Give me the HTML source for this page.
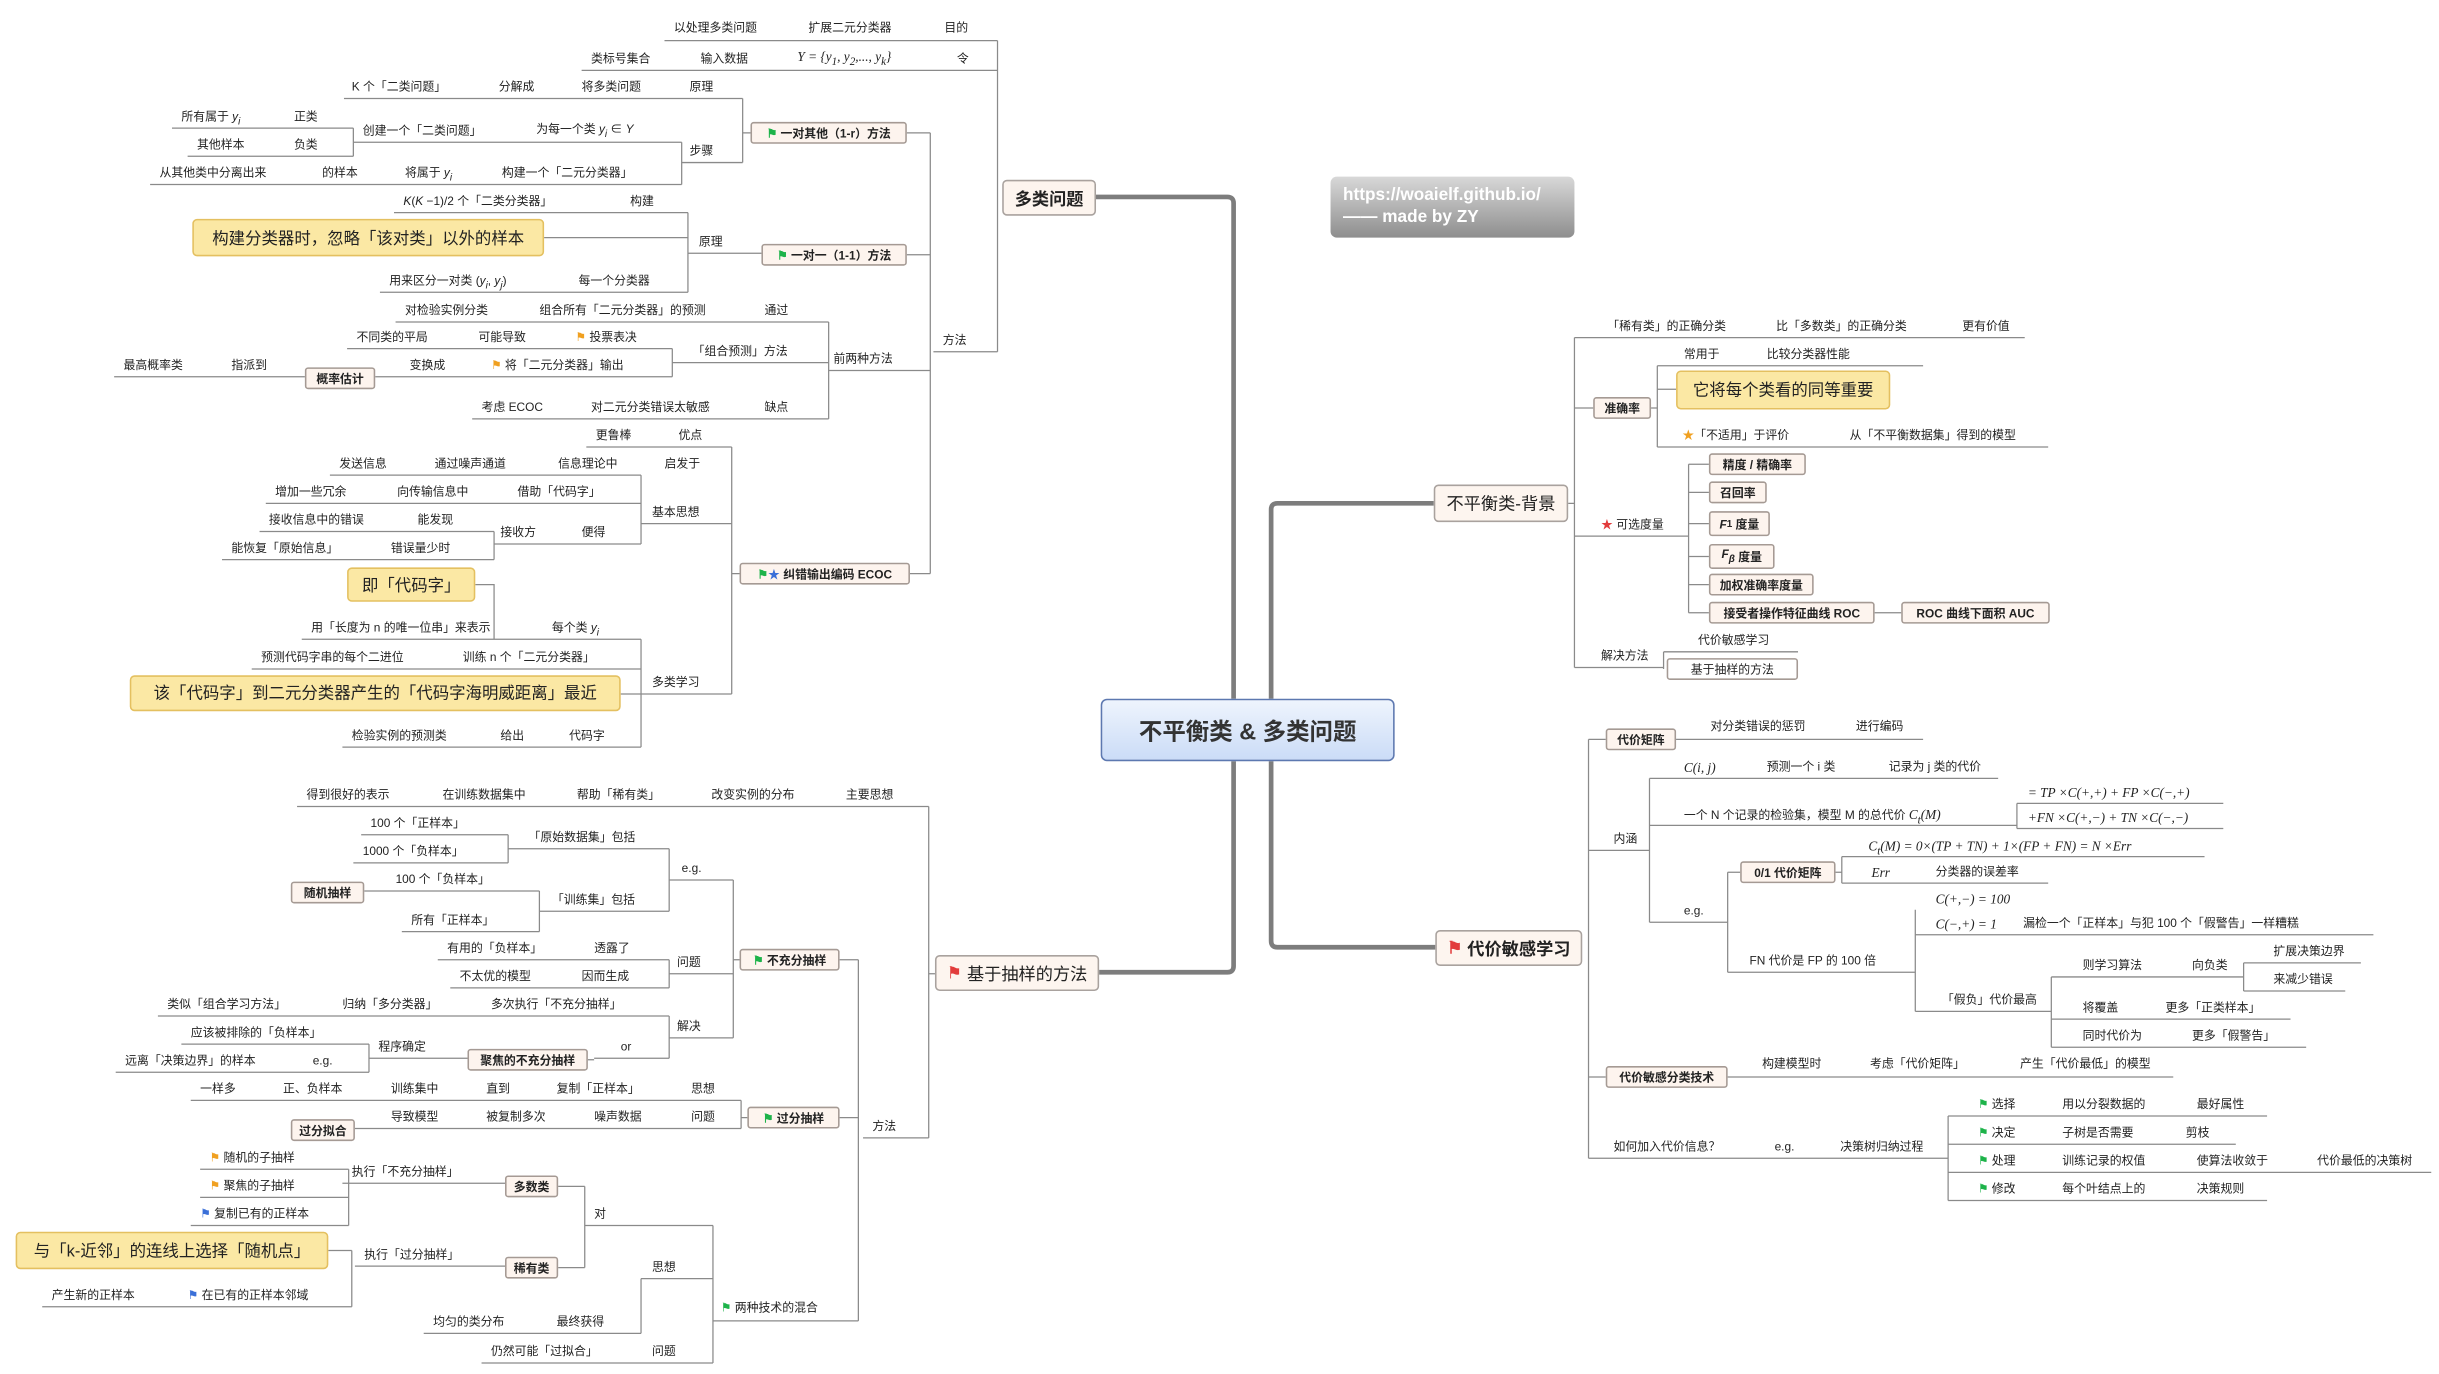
<!DOCTYPE html>
<html><head><meta charset="utf-8"><style>
html,body{margin:0;padding:0;background:#fff;}
#w{position:relative;width:1560px;height:879px;transform:scale(1.5635,1.5631);transform-origin:0 0;overflow:hidden;font-family:"Liberation Sans","Noto Sans CJK SC",sans-serif;color:#222;}
.t{position:absolute;font-size:7.6px;line-height:10px;white-space:nowrap;}
.m{font-family:"Liberation Serif","Noto Serif CJK SC",serif;font-style:italic;font-size:8.5px;}
.b{position:absolute;background:#fdf4ee;border:1px solid #a59a94;border-radius:2px;font-size:7.6px;font-weight:bold;display:flex;align-items:center;justify-content:center;white-space:nowrap;box-sizing:border-box;}
.L{position:absolute;background:#fdf5ef;border:1px solid #a9a29e;border-radius:3px;font-size:11px;display:flex;align-items:center;justify-content:center;white-space:nowrap;box-sizing:border-box;}
.y{position:absolute;background:#fbe8a4;border:1px solid #e4c060;border-radius:3px;font-size:10.5px;display:flex;align-items:center;justify-content:center;white-space:nowrap;box-sizing:border-box;}
.g{color:#1db34a;}.r{color:#e23c3c;}.o{color:#f0a020;}.bl{color:#3a6fd8;}
svg{position:absolute;left:0;top:0;}
</style></head><body><div id="w">
<svg width="1560" height="879">
<g fill="none" stroke="#8a8a8a" stroke-width="0.8">
<path d="M425 26H638M372 45H638M638 26V225M597 225H638M595 85V367M580 85H595M220 63H475M436 104H475M475 63V104M475 85H480M226 91H436M96 118H436M436 91V118M110 82H226M120 100H226M226 82V100"/>
<path d="M580 163H595M440 162H487M440 136V187M252 136H440M243 187H440M348 152H440M530 237H595M530 206V268M253 206H530M430 232H530M302 268H530M430 223V241M222 223H430M240 241H430M73 241H195"/>
<path d="M582 367H595M468 286V444M468 367H473M375 286H468M410 335H468M410 444H468M410 304V348M211 304H410M170 322H410M316 348H410M316 340V358M166 340H316M142 358H316M410 409V478M193 409H410M161 428H410M397 444H410M219 478H410M304 374H316V409"/>
<path d="M594 516V728M536 516H594M552 728H594M594 623H598M549 614V845M537 614H549M537 715H549M456 845H549M190 516H536M469 563V664M469 614H473M428 563H469M428 623H469M428 664H469M428 543V583M325 543H428M345 583H428M325 534V552M231 534H325M226 552H325M345 570V596M233 570H345M257 596H345M428 614V632M280 614H428M288 632H428M428 650V677M101 650H428M380 677H428M376 678H380M236 677H299M236 668V686M116 668H236M74 686H236"/>
<path d="M474 704V722M474 715H478M122 704H474M227 722H474M456 784V872M374 784H456M410 818H456M308 872H456M410 818V853M271 853H410M374 759V811M357 759H374M357 811H374M219 757H323M223 748V784M128 748H223M128 766H223M122 784H223M227 810H323M225 800V836M210 800H225M27 836H225"/>
<path d="M1007 216V427M1003 322H1007M1007 216H1295M1007 261H1019M1060 234V286M1056 261H1060M1060 234H1230M1060 249H1072M1060 286H1310M1007 343H1080M1080 297V392M1080 297H1093M1080 315H1093M1080 335H1093M1080 356H1093M1080 374H1093M1080 392H1093M1199 392H1216M1007 427H1064M1064 417V428M1064 417H1150"/>
<path d="M1016 473V741M1016 473H1027M1072 473H1230M1016 544H1055M1016 689H1027M1105 689H1390M1016 741H1246M1055 498V590M1055 498H1278M1055 528H1290M1055 590H1105M1290 514V530M1290 514H1422M1290 530H1422M1105 558V622M1105 558H1113M1105 622H1225M1178 548V565M1174 558H1178M1178 548H1410M1178 565H1310M1225 582V647M1225 598H1518M1225 647H1312M1312 625V670M1312 625H1435M1312 652H1465M1312 670H1475M1435 616V634M1435 616H1510M1435 634H1500M1246 714V768M1246 714H1450M1246 732H1430M1246 750H1555M1246 768H1450"/>
</g>
<g fill="none" stroke="#7d7d7d" stroke-width="3">
<path d="M701 126H785Q789 126 789 130V447M813 447V326Q813 322 817 322H917M789 487V618Q789 622 785 622H703M813 487V602Q813 606 817 606H918"/>
</g>
</svg>

<!-- center -->
<div style="position:absolute;left:704px;top:447px;width:188px;height:40px;border:1px solid #5d78b0;border-radius:4px;background:linear-gradient(#eef4fd,#cbdcf7);box-sizing:border-box;display:flex;align-items:center;justify-content:center;font-size:15px;font-weight:bold;color:#333;">不平衡类 &amp; 多类问题</div>
<div style="position:absolute;left:851px;top:113px;width:156px;height:39px;border-radius:4px;background:linear-gradient(#d8d8d8,#8e8e8e);color:#fff;font-weight:bold;font-size:11px;line-height:14px;padding:5px 8px;box-sizing:border-box;">https://woaielf.github.io/<br>—— made by ZY</div>

<div class="L" style="left:641px;top:115px;width:60px;height:23px;font-weight:bold;">多类问题</div>
<div class="L" style="left:917px;top:310px;width:86px;height:24px;">不平衡类-背景</div>
<div class="L" style="left:598px;top:611px;width:105px;height:23px;"><span class="r">⚑</span>&nbsp;基于抽样的方法</div>
<div class="L" style="left:918px;top:595px;width:94px;height:23px;font-weight:bold;"><span class="r">⚑</span>&nbsp;代价敏感学习</div>

<!-- top-left -->
<div class="t" style="left:431px;top:13px">以处理多类问题</div><div class="t" style="left:517px;top:13px">扩展二元分类器</div><div class="t" style="left:604px;top:13px">目的</div>
<div class="t" style="left:378px;top:33px">类标号集合</div><div class="t" style="left:448px;top:33px">输入数据</div><div class="t m" style="left:510px;top:31px">Y = {y<sub>1</sub>, y<sub>2</sub>,..., y<sub>k</sub>}</div><div class="t" style="left:612px;top:33px">令</div>
<div class="t" style="left:603px;top:213px">方法</div>
<div class="b" style="left:480px;top:78px;width:100px;height:14px;"><span class="g">⚑</span>&nbsp;一对其他（1-r）方法</div>
<div class="t" style="left:225px;top:51px">K 个「二类问题」</div><div class="t" style="left:319px;top:51px">分解成</div><div class="t" style="left:372px;top:51px">将多类问题</div><div class="t" style="left:441px;top:51px">原理</div>
<div class="t" style="left:441px;top:92px">步骤</div>
<div class="t" style="left:232px;top:79px">创建一个「二类问题」</div><div class="t" style="left:343px;top:78px">为每一个类 <i>y<sub>i</sub></i> ∈ <i>Y</i></div>
<div class="t" style="left:116px;top:70px">所有属于 <i>y<sub>i</sub></i></div><div class="t" style="left:188px;top:70px">正类</div>
<div class="t" style="left:126px;top:88px">其他样本</div><div class="t" style="left:188px;top:88px">负类</div>
<div class="t" style="left:102px;top:106px">从其他类中分离出来</div><div class="t" style="left:206px;top:106px">的样本</div><div class="t" style="left:259px;top:106px">将属于 <i>y<sub>i</sub></i></div><div class="t" style="left:321px;top:106px">构建一个「二元分类器」</div>

<div class="b" style="left:487px;top:156px;width:93px;height:14px;"><span class="g">⚑</span>&nbsp;一对一（1-1）方法</div>
<div class="t" style="left:258px;top:124px"><i>K</i>(<i>K</i> −1)/2 个「二类分类器」</div><div class="t" style="left:403px;top:124px">构建</div>
<div class="t" style="left:447px;top:150px">原理</div>
<div class="y" style="left:123px;top:140px;width:225px;height:24px;">构建分类器时，忽略「该对类」以外的样本</div>
<div class="t" style="left:249px;top:175px">用来区分一对类 (<i>y<sub>i</sub></i>, <i>y<sub>j</sub></i>)</div><div class="t" style="left:370px;top:175px">每一个分类器</div>

<div class="t" style="left:533px;top:225px">前两种方法</div>
<div class="t" style="left:259px;top:194px">对检验实例分类</div><div class="t" style="left:345px;top:194px">组合所有「二元分类器」的预测</div><div class="t" style="left:489px;top:194px">通过</div>
<div class="t" style="left:443px;top:220px">「组合预测」方法</div>
<div class="t" style="left:228px;top:211px">不同类的平局</div><div class="t" style="left:306px;top:211px">可能导致</div><div class="t" style="left:368px;top:211px"><span class="o">⚑</span> 投票表决</div>
<div class="b" style="left:195px;top:235px;width:45px;height:14px;">概率估计</div>
<div class="t" style="left:79px;top:229px">最高概率类</div><div class="t" style="left:148px;top:229px">指派到</div><div class="t" style="left:262px;top:229px">变换成</div><div class="t" style="left:314px;top:229px"><span class="o">⚑</span> 将「二元分类器」输出</div>
<div class="t" style="left:308px;top:256px">考虑 ECOC</div><div class="t" style="left:378px;top:256px">对二元分类错误太敏感</div><div class="t" style="left:489px;top:256px">缺点</div>

<div class="b" style="left:473px;top:360px;width:109px;height:14px;"><span class="g">⚑</span><span class="bl">★</span>&nbsp;纠错输出编码 ECOC</div>
<div class="t" style="left:381px;top:274px">更鲁棒</div><div class="t" style="left:434px;top:274px">优点</div>
<div class="t" style="left:217px;top:292px">发送信息</div><div class="t" style="left:278px;top:292px">通过噪声通道</div><div class="t" style="left:357px;top:292px">信息理论中</div><div class="t" style="left:425px;top:292px">启发于</div>
<div class="t" style="left:176px;top:310px">增加一些冗余</div><div class="t" style="left:254px;top:310px">向传输信息中</div><div class="t" style="left:331px;top:310px">借助「代码字」</div>
<div class="t" style="left:417px;top:323px">基本思想</div>
<div class="t" style="left:172px;top:328px">接收信息中的错误</div><div class="t" style="left:267px;top:328px">能发现</div>
<div class="t" style="left:320px;top:336px">接收方</div><div class="t" style="left:372px;top:336px">便得</div>
<div class="t" style="left:148px;top:346px">能恢复「原始信息」</div><div class="t" style="left:250px;top:346px">错误量少时</div>
<div class="y" style="left:222px;top:363px;width:82px;height:22px;">即「代码字」</div>
<div class="t" style="left:199px;top:397px">用「长度为 n 的唯一位串」来表示</div><div class="t" style="left:353px;top:397px">每个类 <i>y<sub>i</sub></i></div>
<div class="t" style="left:167px;top:416px">预测代码字串的每个二进位</div><div class="t" style="left:296px;top:416px">训练 n 个「二元分类器」</div>
<div class="y" style="left:83px;top:432px;width:314px;height:23px;">该「代码字」到二元分类器产生的「代码字海明威距离」最近</div>
<div class="t" style="left:417px;top:432px">多类学习</div>
<div class="t" style="left:225px;top:466px">检验实例的预测类</div><div class="t" style="left:320px;top:466px">给出</div><div class="t" style="left:364px;top:466px">代码字</div>

<!-- bottom-left -->
<div class="t" style="left:196px;top:504px">得到很好的表示</div><div class="t" style="left:283px;top:504px">在训练数据集中</div><div class="t" style="left:369px;top:504px">帮助「稀有类」</div><div class="t" style="left:455px;top:504px">改变实例的分布</div><div class="t" style="left:541px;top:504px">主要思想</div>
<div class="t" style="left:558px;top:716px">方法</div>
<div class="b" style="left:473px;top:607px;width:64px;height:14px;"><span class="g">⚑</span>&nbsp;不充分抽样</div>
<div class="t" style="left:436px;top:551px">e.g.</div>
<div class="t" style="left:237px;top:522px">100 个「正样本」</div><div class="t" style="left:338px;top:531px">「原始数据集」包括</div>
<div class="t" style="left:232px;top:540px">1000 个「负样本」</div>
<div class="t" style="left:253px;top:558px">100 个「负样本」</div><div class="b" style="left:186px;top:564px;width:47px;height:14px;">随机抽样</div>
<div class="t" style="left:353px;top:571px">「训练集」包括</div>
<div class="t" style="left:263px;top:584px">所有「正样本」</div>
<div class="t" style="left:286px;top:602px">有用的「负样本」</div><div class="t" style="left:380px;top:602px">透露了</div>
<div class="t" style="left:433px;top:611px">问题</div>
<div class="t" style="left:294px;top:620px">不太优的模型</div><div class="t" style="left:372px;top:620px">因而生成</div>
<div class="t" style="left:107px;top:638px">类似「组合学习方法」</div><div class="t" style="left:219px;top:638px">归纳「多分类器」</div><div class="t" style="left:314px;top:638px">多次执行「不充分抽样」</div>
<div class="t" style="left:433px;top:652px">解决</div>
<div class="t" style="left:122px;top:656px">应该被排除的「负样本」</div>
<div class="t" style="left:242px;top:665px">程序确定</div><div class="t" style="left:397px;top:665px">or</div>
<div class="b" style="left:299px;top:671px;width:77px;height:14px;">聚焦的不充分抽样</div>
<div class="t" style="left:80px;top:674px">远离「决策边界」的样本</div><div class="t" style="left:200px;top:674px">e.g.</div>
<div class="b" style="left:478px;top:708px;width:59px;height:14px;"><span class="g">⚑</span>&nbsp;过分抽样</div>
<div class="t" style="left:128px;top:692px">一样多</div><div class="t" style="left:181px;top:692px">正、负样本</div><div class="t" style="left:250px;top:692px">训练集中</div><div class="t" style="left:311px;top:692px">直到</div><div class="t" style="left:356px;top:692px">复制「正样本」</div><div class="t" style="left:442px;top:692px">思想</div>
<div class="b" style="left:186px;top:716px;width:41px;height:14px;">过分拟合</div>
<div class="t" style="left:250px;top:710px">导致模型</div><div class="t" style="left:311px;top:710px">被复制多次</div><div class="t" style="left:380px;top:710px">噪声数据</div><div class="t" style="left:442px;top:710px">问题</div>
<div class="t" style="left:134px;top:736px"><span class="o">⚑</span> 随机的子抽样</div>
<div class="t" style="left:225px;top:745px">执行「不充分抽样」</div>
<div class="b" style="left:323px;top:752px;width:34px;height:14px;">多数类</div>
<div class="t" style="left:134px;top:754px"><span class="o">⚑</span> 聚焦的子抽样</div>
<div class="t" style="left:128px;top:772px"><span class="bl">⚑</span> 复制已有的正样本</div>
<div class="t" style="left:380px;top:772px">对</div>
<div class="y" style="left:10px;top:788px;width:200px;height:24px;">与「k-近邻」的连线上选择「随机点」</div>
<div class="t" style="left:233px;top:798px">执行「过分抽样」</div>
<div class="b" style="left:323px;top:804px;width:34px;height:14px;">稀有类</div>
<div class="t" style="left:417px;top:806px">思想</div>
<div class="t" style="left:33px;top:824px">产生新的正样本</div><div class="t" style="left:120px;top:824px"><span class="bl">⚑</span> 在已有的正样本邻域</div>
<div class="t" style="left:461px;top:832px"><span class="g">⚑</span> 两种技术的混合</div>
<div class="t" style="left:277px;top:841px">均匀的类分布</div><div class="t" style="left:356px;top:841px">最终获得</div>
<div class="t" style="left:314px;top:860px">仍然可能「过拟合」</div><div class="t" style="left:417px;top:860px">问题</div>

<!-- right top -->
<div class="t" style="left:1028px;top:204px">「稀有类」的正确分类</div><div class="t" style="left:1136px;top:204px">比「多数类」的正确分类</div><div class="t" style="left:1255px;top:204px">更有价值</div>
<div class="b" style="left:1019px;top:254px;width:37px;height:14px;">准确率</div>
<div class="t" style="left:1077px;top:222px">常用于</div><div class="t" style="left:1130px;top:222px">比较分类器性能</div>
<div class="y" style="left:1072px;top:237px;width:137px;height:25px;">它将每个类看的同等重要</div>
<div class="t" style="left:1076px;top:274px"><span class="o">★</span>「不适用」于评价</div><div class="t" style="left:1183px;top:274px">从「不平衡数据集」得到的模型</div>
<div class="t" style="left:1024px;top:331px"><span class="r">★</span> 可选度量</div>
<div class="b" style="left:1093px;top:290px;width:62px;height:14px;">精度 / 精确率</div>
<div class="b" style="left:1093px;top:308px;width:37px;height:14px;">召回率</div>
<div class="b" style="left:1093px;top:327px;width:39px;height:16px;"><i>F</i><sub>1</sub>&nbsp;度量</div>
<div class="b" style="left:1093px;top:348px;width:42px;height:16px;"><i>F<sub>β</sub></i>&nbsp;度量</div>
<div class="b" style="left:1093px;top:367px;width:67px;height:14px;">加权准确率度量</div>
<div class="b" style="left:1093px;top:385px;width:106px;height:14px;">接受者操作特征曲线 ROC</div>
<div class="b" style="left:1216px;top:385px;width:95px;height:14px;">ROC 曲线下面积 AUC</div>
<div class="t" style="left:1024px;top:415px">解决方法</div>
<div class="t" style="left:1086px;top:405px">代价敏感学习</div>
<div class="b" style="left:1066px;top:421px;width:84px;height:14px;font-weight:normal;background:#fff;">基于抽样的方法</div>

<!-- right bottom -->
<div class="b" style="left:1027px;top:466px;width:45px;height:14px;">代价矩阵</div>
<div class="t" style="left:1094px;top:460px">对分类错误的惩罚</div><div class="t" style="left:1187px;top:460px">进行编码</div>
<div class="t" style="left:1032px;top:532px">内涵</div>
<div class="t m" style="left:1077px;top:486px">C(i, j)</div><div class="t" style="left:1130px;top:486px">预测一个 i 类</div><div class="t" style="left:1208px;top:486px">记录为 j 类的代价</div>
<div class="t m" style="left:1297px;top:502px">= TP ×C(+,+) + FP ×C(−,+)</div>
<div class="t" style="left:1077px;top:516px">一个 N 个记录的检验集，模型 M 的总代价 <i class="m">C<sub>t</sub>(M)</i></div>
<div class="t m" style="left:1297px;top:518px">+FN ×C(+,−) + TN ×C(−,−)</div>
<div class="t m" style="left:1195px;top:536px">C<sub>t</sub>(M) = 0×(TP + TN) + 1×(FP + FN) = N ×Err</div>
<div class="b" style="left:1113px;top:551px;width:61px;height:14px;">0/1 代价矩阵</div>
<div class="t m" style="left:1197px;top:553px">Err</div><div class="t" style="left:1238px;top:553px">分类器的误差率</div>
<div class="t m" style="left:1238px;top:570px">C(+,−) = 100</div>
<div class="t" style="left:1077px;top:578px">e.g.</div>
<div class="t m" style="left:1238px;top:586px">C(−,+) = 1</div><div class="t" style="left:1294px;top:586px">漏检一个「正样本」与犯 100 个「假警告」一样糟糕</div>
<div class="t" style="left:1454px;top:604px">扩展决策边界</div>
<div class="t" style="left:1119px;top:610px">FN 代价是 FP 的 100 倍</div>
<div class="t" style="left:1332px;top:613px">则学习算法</div><div class="t" style="left:1402px;top:613px">向负类</div>
<div class="t" style="left:1454px;top:622px">来减少错误</div>
<div class="t" style="left:1242px;top:635px">「假负」代价最高</div>
<div class="t" style="left:1332px;top:640px">将覆盖</div><div class="t" style="left:1385px;top:640px">更多「正类样本」</div>
<div class="t" style="left:1332px;top:658px">同时代价为</div><div class="t" style="left:1402px;top:658px">更多「假警告」</div>
<div class="b" style="left:1027px;top:682px;width:78px;height:14px;">代价敏感分类技术</div>
<div class="t" style="left:1127px;top:676px">构建模型时</div><div class="t" style="left:1196px;top:676px">考虑「代价矩阵」</div><div class="t" style="left:1292px;top:676px">产生「代价最低」的模型</div>
<div class="t" style="left:1265px;top:702px"><span class="g">⚑</span> 选择</div><div class="t" style="left:1319px;top:702px">用以分裂数据的</div><div class="t" style="left:1405px;top:702px">最好属性</div>
<div class="t" style="left:1265px;top:720px"><span class="g">⚑</span> 决定</div><div class="t" style="left:1319px;top:720px">子树是否需要</div><div class="t" style="left:1398px;top:720px">剪枝</div>
<div class="t" style="left:1032px;top:729px">如何加入代价信息？</div><div class="t" style="left:1135px;top:729px">e.g.</div><div class="t" style="left:1177px;top:729px">决策树归纳过程</div>
<div class="t" style="left:1265px;top:738px"><span class="g">⚑</span> 处理</div><div class="t" style="left:1319px;top:738px">训练记录的权值</div><div class="t" style="left:1405px;top:738px">使算法收敛于</div><div class="t" style="left:1482px;top:738px">代价最低的决策树</div>
<div class="t" style="left:1265px;top:756px"><span class="g">⚑</span> 修改</div><div class="t" style="left:1319px;top:756px">每个叶结点上的</div><div class="t" style="left:1405px;top:756px">决策规则</div>
</div></body></html>
